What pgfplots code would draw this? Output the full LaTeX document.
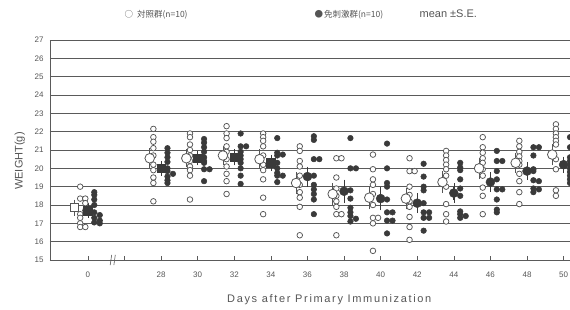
\documentclass[border=0pt]{standalone}
\usepackage{pgfplots}
\pgfplotsset{compat=1.18}
\usepackage{pgfplotstable}
\usepackage{fontspec}
\setmainfont{Liberation Sans}
\newfontfamily\cjk{Noto Sans CJK JP}
\definecolor{gridc}{HTML}{5A5A5A}
\definecolor{txtc}{HTML}{555555}
\definecolor{opc}{HTML}{555555}
\definecolor{flc}{HTML}{3A3A3A}

% individual values, control group (p = position, dx = side-by-side shift)
\pgfplotstableread{
p dx w
24 0 19.0
24 0 18.35
24 1 18.35
24 1 18.1
24 1 17.7
24 0 17.5
24 0 17.3
24 0 17.0
24 0 16.8
24 1 16.8
28 0 22.15
28 0 21.7
28 0 21.45
28 0 21.1
28 0 20.7
28 0 20.2
28 0 19.9
28 0 19.5
28 0 19.2
28 0 18.2
30 0 21.9
30 0 21.7
30 0 21.3
30 0 21.0
30 0 20.7
30 0 20.4
30 0 20.1
30 0 19.9
30 0 19.6
30 0 18.3
32 0 22.3
32 0 21.9
32 0 21.65
32 0 21.2
32 0 20.9
32 0 20.5
32 0 20.1
32 0 19.7
32 0 19.3
32 0 18.6
34 0 21.9
34 0 21.7
34 0 21.5
34 0 21.2
34 0 20.7
34 0 20.2
34 0 19.9
34 0 19.4
34 0 18.4
34 0 17.5
36 0 21.2
36 0 20.95
36 0 20.4
36 0 20.1
36 0 19.6
36 0 19.1
36 0 18.7
36 0 18.4
36 0 17.9
36 0 16.35
38 0 20.55
38 1 20.55
38 0 19.5
38 0 18.9
38 0 18.5
38 0 18.2
38 0 17.9
38 0 17.5
38 1 17.5
38 0 16.35
40 0 20.75
40 0 19.95
40 0 19.4
40 0 19.1
40 0 18.6
40 0 18.0
40 0 17.3
40 1 17.3
40 0 17.0
40 0 15.5
42 0 20.55
42 0 19.85
42 1 19.85
42 0 19.0
42 0 18.55
42 0 18.2
42 0 17.9
42 0 17.35
42 0 16.8
42 0 16.1
44 0 20.95
44 0 20.7
44 0 20.45
44 0 20.2
44 0 19.95
44 0 19.6
44 0 19.0
44 0 18.05
44 0 17.5
44 0 17.1
46 0 21.7
46 0 21.15
46 0 20.85
46 0 20.55
46 0 20.3
46 0 19.95
46 0 19.6
46 0 18.95
46 0 18.5
46 0 17.5
48 0 21.5
48 0 21.2
48 0 20.9
48 0 20.65
48 0 20.4
48 0 20.2
48 0 19.7
48 0 19.3
48 0 18.7
48 0 18.05
50 0 22.4
50 0 22.15
50 0 21.9
50 0 21.7
50 0 21.5
50 0 21.3
50 0 20.5
50 0 19.95
50 0 18.8
50 0 18.5
}\opendata

% individual values, immunized group
\pgfplotstableread{
p dx w
24 0 18.7
24 0 18.55
24 0 18.3
24 0 18.0
24 0 17.6
24 1 17.45
24 0 17.3
24 1 17.15
24 0 17.05
24 1 17.0
28 0 21.1
28 0 20.85
28 0 20.6
28 0 20.35
28 0 20.0
28 0 19.85
28 1 19.7
28 0 19.55
28 0 19.35
28 0 19.2
30 0 21.6
30 0 21.4
30 0 21.15
30 0 20.9
30 0 20.6
30 0 20.4
30 0 20.3
30 0 19.95
30 1 19.95
30 0 19.3
32 0 21.9
32 0 21.2
32 1 21.2
32 0 20.9
32 0 20.7
32 0 20.5
32 0 20.3
32 0 20.0
32 0 19.6
32 0 19.15
34 0 21.65
34 0 20.85
34 1 20.75
34 0 20.7
34 0 20.3
34 0 20.0
34 0 19.75
34 0 19.6
34 1 19.6
34 0 19.25
36 0 21.75
36 0 21.55
36 0 20.5
36 1 20.5
36 0 19.6
36 0 19.1
36 0 18.85
36 0 18.6
36 0 18.3
36 0 17.5
38 0 21.65
38 0 20.0
38 1 20.0
38 0 18.8
38 0 18.35
38 0 17.85
38 0 17.6
38 0 17.4
38 1 17.25
38 0 17.1
40 0 21.35
40 0 20.0
40 0 19.2
40 0 19.0
40 0 18.3
40 0 17.6
40 1 17.6
40 0 17.15
40 1 17.15
40 0 16.45
42 0 20.25
42 0 19.55
42 0 19.0
42 0 18.8
42 0 18.1
42 0 17.6
42 1 17.6
42 0 17.3
42 1 17.3
42 0 16.6
44 0 20.3
44 0 20.05
44 0 19.9
44 0 19.4
44 0 18.9
44 0 18.5
44 0 17.65
44 0 17.5
44 1 17.4
44 0 17.3
46 0 20.95
46 0 20.4
46 1 20.4
46 0 19.85
46 0 19.4
46 0 18.85
46 1 18.85
46 0 18.3
46 0 17.75
46 0 17.6
48 0 21.15
48 1 21.15
48 0 20.7
48 0 19.95
48 0 19.85
48 0 19.35
48 1 19.3
48 0 18.9
48 1 18.85
48 0 18.7
50 0 21.7
50 0 21.15
50 0 20.6
50 0 20.4
50 0 20.2
50 0 20.0
50 0 19.8
50 0 19.6
50 0 19.4
50 0 19.2
}\fldata

% means and S.E.
\pgfplotstableread{
p m se
28 20.55 0.35
30 20.55 0.30
32 20.70 0.35
34 20.50 0.35
36 19.20 0.40
38 18.60 0.40
40 18.40 0.45
42 18.35 0.40
44 19.25 0.40
46 20.00 0.40
48 20.30 0.35
50 20.75 0.40
}\openmean
\pgfplotstableread{
p m se
24 17.70 0.20
28 20.00 0.20
30 20.55 0.20
32 20.60 0.25
34 20.30 0.25
}\flmeanA
\pgfplotstableread{
p m se
36 19.55 0.35
38 18.75 0.45
40 18.35 0.45
42 18.10 0.35
44 18.65 0.35
46 19.25 0.35
48 19.85 0.30
50 20.20 0.25
}\flmeanB

\begin{document}
\begin{tikzpicture}
\begin{axis}[
  scale only axis, width=520pt, height=220pt,
  xmin=21.93, xmax=50.35, ymin=15, ymax=27,
  clip=false,
  axis x line=bottom, axis y line=left,
  axis line style={-, gridc, line width=0.9pt},
  ytick={15,16,...,27},
  ymajorgrids, grid style={gridc, line width=0.9pt},
  xtick={24,26,...,50},
  xticklabels={0,,28,30,32,34,36,38,40,42,44,46,48,50},
  tick align=inside, major tick length=4pt,
  xtick style={gridc, line width=0.6pt},
  ytick style={draw=none},
  /pgf/number format/assume math mode=true,
  tick label style={font=\fontsize{8}{9}\selectfont, text=txtc},
  xticklabel style={yshift=-8pt},
  yticklabel style={xshift=-3pt},
  xlabel={\addfontfeatures{LetterSpace=15}Days after Primary Immunization},
  ylabel={WEIGHT(g)},
  every axis x label/.style={at={(axis description cs:0.537,-0.182)}, anchor=center, font=\fontsize{11}{12}\selectfont, text=txtc},
  every axis y label/.style={at={(axis description cs:-0.058,0.45)}, rotate=90, anchor=center, font=\fontsize{11}{12}\selectfont, text=txtc},
]
% control individuals
\addplot[only marks, mark=*, mark size=2.8pt, mark options={draw=opc, fill=white, line width=0.75pt}]
  table[x expr=\thisrow{p}-0.42+0.28*\thisrow{dx}, y=w]{\opendata};
% immunized individuals
\addplot[only marks, mark=*, mark size=2.8pt, mark options={draw=flc, fill=flc, line width=0.5pt}]
  table[x expr=\thisrow{p}+0.35+0.3*\thisrow{dx}, y=w]{\fldata};
% control means: error bars then markers
\addplot[only marks, mark=none, error bars/.cd, y dir=both, y explicit,
  error bar style={opc, line width=0.7pt}, error mark options={opc, mark size=3.5pt, line width=0.7pt}]
  table[x expr=\thisrow{p}-0.62, y=m, y error=se]{\openmean};
\addplot[only marks, mark=*, mark size=4.8pt, mark options={draw=opc, fill=white, line width=0.8pt}]
  table[x expr=\thisrow{p}-0.62, y=m]{\openmean};
\addplot[only marks, mark=square*, mark size=4pt, mark options={draw=opc, fill=white, line width=0.8pt},
  error bars/.cd, y dir=both, y explicit, error bar style={opc, line width=0.7pt}, error mark options={opc, mark size=3.5pt}]
  coordinates {(23.25,17.85) +- (0,0.25)};
% immunized means
\addplot[only marks, mark=square*, mark size=4.2pt, mark options={draw=flc, fill=flc},
  error bars/.cd, y dir=both, y explicit, error bar style={flc, line width=0.7pt}, error mark options={flc, mark size=3.5pt}]
  table[x expr=\thisrow{p}+0.0, y=m, y error=se]{\flmeanA};
\addplot[only marks, mark=*, mark size=4.5pt, mark options={draw=flc, fill=flc},
  error bars/.cd, y dir=both, y explicit, error bar style={flc, line width=0.7pt}, error mark options={flc, mark size=3.5pt}]
  table[x expr=\thisrow{p}+0.0, y=m, y error=se]{\flmeanB};
% axis break
\draw[gridc, line width=0.6pt] (axis cs:25.22,14.72) -- (axis cs:25.3,15.28);
\draw[gridc, line width=0.6pt] (axis cs:25.42,14.72) -- (axis cs:25.5,15.28);
% legend texts
\node[anchor=west, text=txtc, font=\cjk\fontsize{8.5}{9}\selectfont] at (axis description cs:0.1365,1.114) {○\hspace{4pt}対照群(n=10)};
\node[anchor=west, text=txtc, font=\cjk\fontsize{8.5}{9}\selectfont] at (axis description cs:0.502,1.114) {●\hspace{1pt}免刺激群(n=10)};
\node[anchor=west, text=txtc, font=\fontsize{11}{12}\selectfont] at (axis description cs:0.704,1.12) {mean ±S.E.};
\end{axis}
\pgfresetboundingbox
\path (-50pt,-49pt) rectangle (520pt,260pt);
\end{tikzpicture}
\end{document}
